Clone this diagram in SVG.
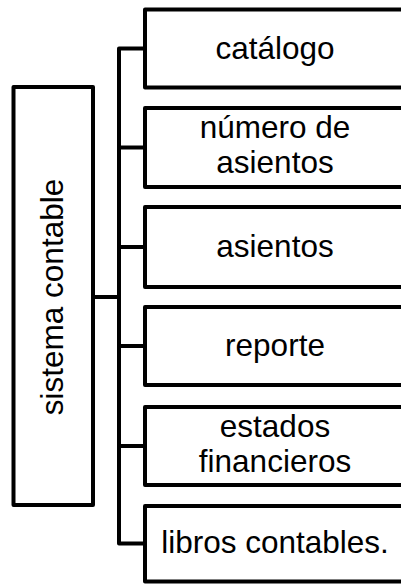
<svg xmlns="http://www.w3.org/2000/svg" width="401" height="584" viewBox="0 0 401 584">
<style>
.box{fill:#ffffff;stroke:#000000;stroke-width:4;stroke-linejoin:round}
.conn{fill:none;stroke:#000000;stroke-width:4;stroke-linejoin:round;stroke-linecap:square}
.lbl{font-family:"Liberation Sans",Arial,sans-serif;font-size:31.5px;fill:#000000;text-anchor:middle}
</style>
<rect width="401" height="584" fill="#ffffff"/>
<g id="connectors">
<path class="conn" d="M93,297 H119"/>
<path class="conn" d="M145,48.5 H119 V543.5 H145"/>
<path class="conn" d="M119,147.5 H145"/>
<path class="conn" d="M119,247 H145"/>
<path class="conn" d="M119,346 H145"/>
<path class="conn" d="M119,446 H145"/>
</g>
<g id="root">
<rect class="box" x="13.5" y="87" width="79.5" height="418"/>
<text class="lbl" transform="translate(63,297) rotate(-90)" x="0" y="0">sistema contable</text>
</g>
<g id="n1">
<rect class="box" x="145" y="9.5" width="260" height="78"/>
<text class="lbl" x="275" y="58.5">catálogo</text>
</g>
<g id="n2">
<rect class="box" x="145" y="108" width="260" height="79"/>
<text class="lbl" x="275" y="138">número de</text>
<text class="lbl" x="275" y="173">asientos</text>
</g>
<g id="n3">
<rect class="box" x="145" y="207" width="260" height="80"/>
<text class="lbl" x="275" y="257">asientos</text>
</g>
<g id="n4">
<rect class="box" x="145" y="307" width="260" height="78"/>
<text class="lbl" x="275" y="356">reporte</text>
</g>
<g id="n5">
<rect class="box" x="145" y="407" width="260" height="78"/>
<text class="lbl" x="275" y="436.5">estados</text>
<text class="lbl" x="275" y="471.5">financieros</text>
</g>
<g id="n6">
<rect class="box" x="145" y="506" width="260" height="75.5"/>
<text class="lbl" x="275" y="553">libros contables.</text>
</g>
</svg>
